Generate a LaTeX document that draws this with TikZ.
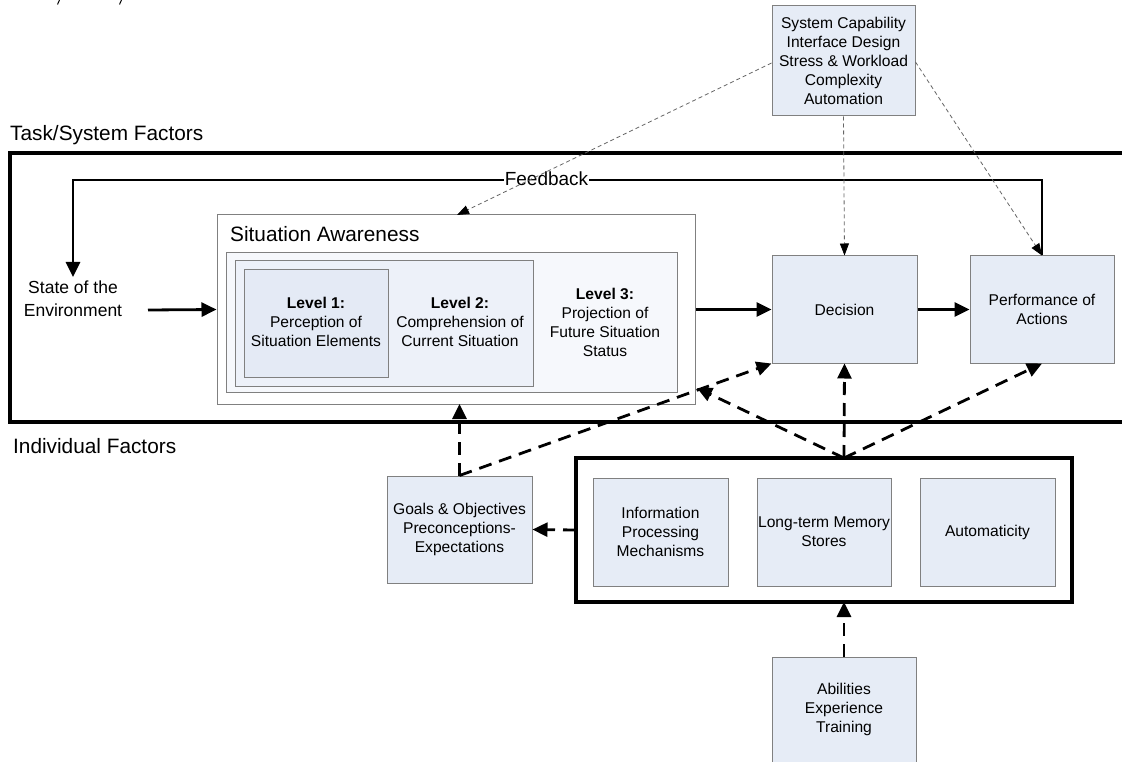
\documentclass[tikz,border=0pt]{standalone}
\usepackage{fontspec}
\setmainfont{Liberation Sans}
\usetikzlibrary{arrows.meta,calc}

\definecolor{boxfill}{RGB}{230,236,246}
\definecolor{boxline}{RGB}{128,128,128}
\definecolor{sainner}{RGB}{246,248,252}
\definecolor{lvltwo}{RGB}{237,241,249}
\definecolor{lvlone}{RGB}{228,234,245}

\tikzset{
  factor/.style={draw=boxline, line width=1pt, fill=boxfill, align=center,
    inner sep=0pt, font=\fontsize{15.6}{19}\selectfont},
  plaintext/.style={align=center, inner sep=0pt, font=\fontsize{15.6}{19}\selectfont},
  group/.style={draw=black, line width=3.2pt, fill=white},
  flow/.style={line width=2.8pt, -{Triangle[length=15pt,width=14pt]}},
  influence/.style={flow, dash pattern=on 13pt off 8pt},
  sysinfluence/.style={draw=boxline!80!black, line width=0.8pt, dash pattern=on 4pt off 3pt,
    -{Triangle[length=12pt,width=9pt,color=black]}},
  heading/.style={inner sep=0pt, font=\fontsize{20.8}{24}\selectfont},
}

\begin{document}
\begin{tikzpicture}[x=1pt,y=-1pt]
  \fill[white] (0,0) rectangle (1122,762);
  \useasboundingbox (0,0) rectangle (1122,762);

  % remnants of a caption line above the figure
  \draw[line width=1pt] (59.5,0) -- (57.5,4.5);
  \draw[line width=1pt] (121.5,0) -- (119.5,4.5);

  % task / system factors frame
  \node[heading, anchor=base west] (tasklabel) at (10,141) {Task/System Factors};
  \draw[group, fill=none] (10,153) rectangle (1140,422);

  \node[heading, anchor=base west] (indlabel) at (13,453) {Individual Factors};

  % task/system factor list
  \node[factor, minimum width=143pt, minimum height=110pt] (sys) at (843.5,61)
    {System Capability\\Interface Design\\Stress \& Workload\\Complexity\\Automation};

  % situation awareness block
  \node[draw=boxline, line width=1pt, fill=white, minimum width=478pt, minimum height=189pt,
    inner sep=0pt] (sa) at (456,309.5) {};
  \node[heading, anchor=base west] (satitle) at (230,242) {Situation Awareness};
  \node[draw=boxline, line width=1pt, fill=sainner, minimum width=451pt, minimum height=139pt,
    inner sep=0pt] (sain) at (451.5,322.5) {};
  \node[draw=boxline, line width=1pt, fill=lvltwo, minimum width=298pt, minimum height=125pt,
    inner sep=0pt] (lvltwobox) at (384,323.5) {};
  \node[factor, fill=lvlone, minimum width=144pt, minimum height=108pt] (lvlone) at (316,323) {};
  \node[plaintext] (l1) at (316,322) {\textbf{Level 1:}\\Perception of\\Situation Elements};
  \node[plaintext] (l2) at (460,322) {\textbf{Level 2:}\\Comprehension of\\Current Situation};
  \node[plaintext] (l3) at (605,322) {\textbf{Level 3:}\\Projection of\\Future Situation\\Status};

  % environment
  \node[align=center, inner sep=0pt, font=\fontsize{17.5}{23}\selectfont] (state) at (73,299)
    {State of the\\Environment};
  \coordinate (stateout) at (148,310);
  \coordinate (statein) at (73,277);

  % decision and action
  \node[factor, minimum width=145pt, minimum height=107pt] (dec) at (844.5,309.5) {Decision};
  \node[factor, minimum width=144pt, minimum height=107pt] (perf) at (1042,309.5)
    {Performance of\\Actions};

  % individual factors
  \draw[group] (576,458) rectangle (1072,602);
  \coordinate (indtop) at (844,458);
  \coordinate (indbot) at (844,602);
  \coordinate (indleft) at (576,530);
  \node[factor, minimum width=135pt, minimum height=108pt] (info) at (660.5,532)
    {Information\\Processing\\Mechanisms};
  \node[factor, minimum width=134pt, minimum height=108pt] (ltm) at (824,532)
    {Long-term Memory\\Stores};
  \node[factor, minimum width=135pt, minimum height=108pt] (auto) at (987.5,532)
    {Automaticity};
  \node[factor, minimum width=145pt, minimum height=107pt] (goals) at (459.5,529.5)
    {Goals \& Objectives\\Preconceptions-\\Expectations};
  \node[factor, minimum width=144pt, minimum height=120pt] (abil) at (844,717) {};
  \node[plaintext] (abiltext) at (844,709) {Abilities\\Experience\\Training};

  % main flow
  \draw[flow] (stateout) -- (sa.west);
  \draw[flow] (sa.east) -- (dec.west);
  \draw[flow] (dec.east) -- (perf.west);
  \coordinate (fbright) at (1042,180);
  \draw[flow] (perf.north) -- (fbright) -| (statein);
  \node[fill=white, inner sep=1pt, font=\fontsize{19}{22}\selectfont] (fb) at (546.5,179) {Feedback};

  % task/system influences
  \coordinate (satop) at (457,215);
  \draw[sysinfluence] ($(sys.west)+(0,2)$) -- (satop);
  \draw[sysinfluence] (sys.south) -- (dec.north);
  \draw[sysinfluence] ($(sys.east)+(0,1)$) -- (perf.north);

  % individual influences
  \coordinate (saright) at (697,388);
  \coordinate (sabottom) at (459.5,404);
  \draw[influence] (indtop) -- (saright);
  \draw[influence] (indtop) -- (dec.south);
  \draw[influence] (indtop) -- (perf.south);
  \draw[influence] (abil.north) -- (indbot);
  \draw[influence] (indleft) -- (goals.east);
  \draw[influence] (goals.north) -- (sabottom);
  \draw[influence] (goals.north) -- (dec.south west);
\end{tikzpicture}
\end{document}
